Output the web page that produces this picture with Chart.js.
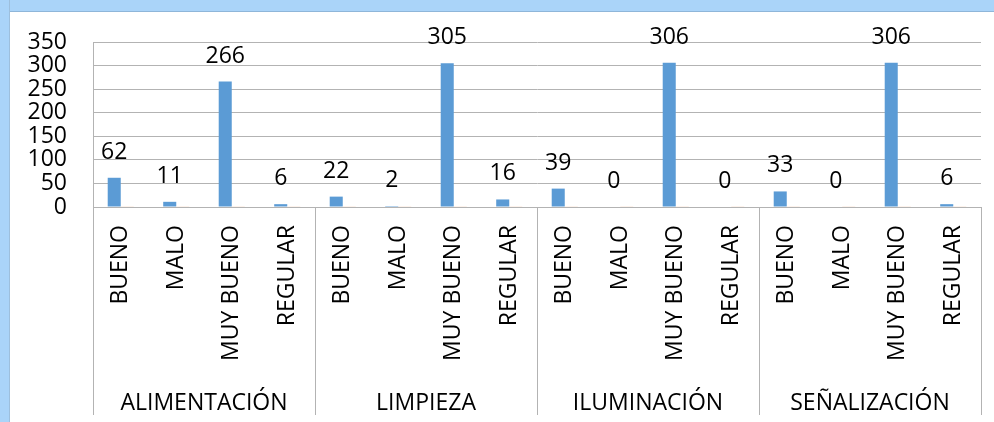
<!DOCTYPE html>
<html lang="es">
<head>
<meta charset="utf-8">
<title>Evaluación de servicios</title>
<script src="https://cdn.jsdelivr.net/npm/chart.js@4.4.1/dist/chart.umd.min.js"></script>
<style>
  html, body { margin: 0; padding: 0; }
  body { width: 994px; height: 422px; position: relative; background: #ffffff; overflow: hidden; }
  .band-top { position: absolute; left: 0; top: 0; width: 994px; height: 11px; background: #aad4f9; border-bottom: 1px solid #8fb6d9; }
  .band-left { position: absolute; left: 0; top: 0; width: 9px; height: 422px; background: #aad4f9; border-right: 1px solid #9dbfdd; }
  #chart { position: absolute; left: 0; top: 0; }
</style>
</head>
<body>
<div class="band-top"></div>
<div class="band-left"></div>
<canvas id="chart" width="994" height="422"></canvas>
<script>
// Service areas (outer tier of the category axis)
const groups = ['ALIMENTACIÓN', 'LIMPIEZA', 'ILUMINACIÓN', 'SEÑALIZACIÓN'];
// Rating options inside each area (inner tier)
const ratings = ['BUENO', 'MALO', 'MUY BUENO', 'REGULAR'];
// Number of answers per area and rating
const answers = [62, 11, 266, 6, 22, 2, 305, 16, 39, 0, 306, 0, 33, 0, 306, 6];
// Second (empty) series kept in the workbook
const secondSeries = [0, 0, 0, 0, 0, 0, 0, 0, 0, 0, 0, 0, 0, 0, 0, 0];
// Value axis ticks
const yMin = 0, yMax = 350, yStep = 50;

const labels = groups.flatMap(() => ratings);
const FONT = "'Open Sans', sans-serif";
const GRID = '#b3b3b3';

// Value labels above each bar of the main series
const valueLabels = {
  id: 'valueLabels',
  afterDatasetsDraw(chart) {
    const ctx = chart.ctx;
    const meta = chart.getDatasetMeta(0);
    ctx.save();
    ctx.font = '23px ' + FONT;
    ctx.fillStyle = '#000000';
    ctx.textAlign = 'center';
    ctx.textBaseline = 'alphabetic';
    meta.data.forEach((bar, i) => {
      ctx.fillText(String(answers[i]), bar.x, bar.y - 19);
    });
    ctx.restore();
  }
};

// Box lines separating the area groups below the plot
const groupSeparators = {
  id: 'groupSeparators',
  afterDraw(chart) {
    const x = chart.scales.x;
    const g = chart.scales.g;
    const ctx = chart.ctx;
    const step = (x.right - x.left) / groups.length;
    ctx.save();
    ctx.strokeStyle = GRID;
    ctx.lineWidth = 1;
    ctx.beginPath();
    for (let i = 0; i <= groups.length; i++) {
      const px = Math.round(x.left + i * step) + 0.5;
      ctx.moveTo(px, x.top);
      ctx.lineTo(px, g.bottom - 7);
    }
    ctx.stroke();
    ctx.restore();
  }
};

new Chart(document.getElementById('chart'), {
  type: 'bar',
  data: {
    labels: labels,
    datasets: [
      {
        label: 'Serie1',
        data: answers,
        backgroundColor: '#5b9bd5',
        borderWidth: 0,
        categoryPercentage: 0.47,
        barPercentage: 1.0
      },
      {
        label: 'Serie2',
        data: secondSeries,
        backgroundColor: 'rgba(237,125,49,0.18)',
        borderWidth: 0,
        minBarLength: 1,
        categoryPercentage: 0.47,
        barPercentage: 1.0
      }
    ]
  },
  options: {
    responsive: false,
    animation: false,
    layout: { padding: { top: 42, right: 13, bottom: 0, left: 0 } },
    plugins: {
      legend: { display: false },
      tooltip: { enabled: false },
      title: { display: false }
    },
    scales: {
      y: {
        min: yMin,
        max: yMax,
        ticks: {
          stepSize: yStep,
          autoSkip: false,
          color: '#000000',
          font: { family: FONT, size: 23 },
          padding: 26
        },
        grid: { color: GRID, drawTicks: false },
        border: { display: true, color: GRID },
        afterFit(scale) { scale.width = 93; }
      },
      x: {
        type: 'category',
        offset: true,
        grid: { display: false },
        border: { display: true, color: GRID },
        ticks: {
          autoSkip: false,
          minRotation: 90,
          maxRotation: 90,
          color: '#000000',
          font: { family: FONT, size: 23 },
          padding: 10
        },
        afterFit(scale) { scale.height = 168; }
      },
      g: {
        type: 'category',
        position: 'bottom',
        labels: groups,
        offset: true,
        grid: { display: false, drawTicks: false },
        border: { display: false },
        ticks: {
          autoSkip: false,
          maxRotation: 0,
          color: '#000000',
          font: { family: FONT, size: 23 },
          padding: 15
        },
        afterFit(scale) { scale.height = 47; }
      }
    }
  },
  plugins: [valueLabels, groupSeparators]
});
</script>
</body>
</html>
